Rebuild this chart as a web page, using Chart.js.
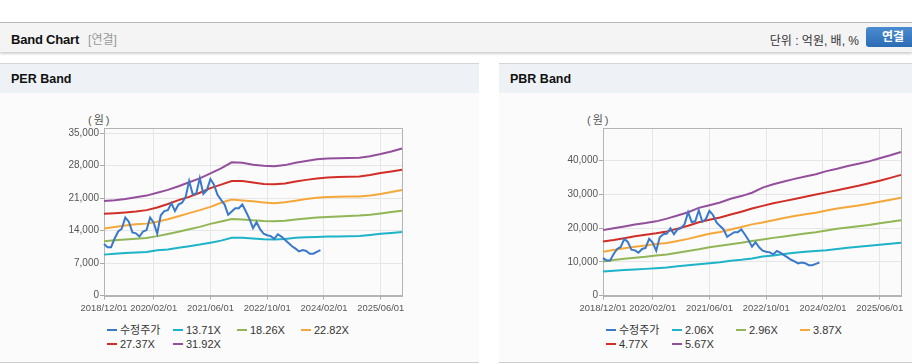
<!DOCTYPE html>
<html>
<head>
<meta charset="utf-8">
<script src="https://cdn.jsdelivr.net/npm/chart.js@4.4.1/dist/chart.umd.min.js"></script>
<style>
body{margin:0;width:912px;height:364px;overflow:hidden;background:#fff;font-family:"Liberation Sans",Arial,"Noto Sans CJK KR",sans-serif;position:relative}
#head{position:absolute;left:0;top:22px;width:912px;height:29px;background:#f4f4f4;border-top:1px solid #b8b8b8;box-shadow:0 2px 2px rgba(0,0,0,0.18)}
#head .t{position:absolute;left:11px;top:7px;font-size:13px;font-weight:bold;color:#111;letter-spacing:-0.2px}
#head .t span{font-weight:normal;color:#999;font-size:12px;margin-left:9px;letter-spacing:0}
#head .u{position:absolute;right:53px;top:8px;font-size:12px;color:#333}
#head .b{position:absolute;left:866px;top:4px;width:54px;height:20px;border-radius:3px;background:linear-gradient(#4b8bd2,#2c6cb4);color:#fff;font-weight:bold;font-size:12px;line-height:20px;text-align:center}
.panel{position:absolute;top:63px;height:298px;background:#fbfbfb;border-top:1px solid #d4d4d4;border-bottom:1px solid #cfcfcf}
.panel .ph{height:29px;background:#eef2f7;font-size:12.5px;font-weight:bold;color:#111;line-height:31px;padding-left:11px}
.unit{position:absolute;top:111px;font-size:11px;color:#555;letter-spacing:2px}
canvas.c{position:absolute;top:108px}
.legend{position:absolute;top:323px;width:260px;display:flex;flex-wrap:wrap;font-size:11px;color:#333}
.legend div{height:13.7px;line-height:14px;white-space:nowrap}
.legend i{display:inline-block;width:10px;height:2px;margin-right:3px;vertical-align:middle;position:relative;top:-1px}
</style>
</head>
<body>
<div id="head"><div class="t">Band Chart<span>[연결]</span></div><div class="u">단위 : 억원, 배, %</div><div class="b">연결</div></div>
<div class="panel" style="left:0;width:479px"><div class="ph">PER Band</div></div>
<div class="panel" style="left:499px;width:413px"><div class="ph">PBR Band</div></div>
<div class="unit" style="left:88px">(원)</div>
<div class="unit" style="left:587px">(원)</div>
<canvas class="c" id="perChart" width="380" height="212" style="left:30px"></canvas>
<canvas class="c" id="pbrChart" width="380" height="212" style="left:529px"></canvas>
<div class="legend" id="perLegend" style="left:107px"></div>
<div class="legend" id="pbrLegend" style="left:606px"></div>
<script>
// monthly categories 2018/12 ~ 2025/12
const months=[];
for(let y=2018,m=12;y<2026;){
  months.push(y+'/'+String(m).padStart(2,'0')+'/01');
  m++; if(m>12){m=1;y++;}
}
const tickLabels=['2018/12/01','2020/02/01','2021/06/01','2022/10/01','2024/02/01','2025/06/01'];
const perTicks=[0,7000,14000,21000,28000,35000];
const pbrTicks=[0,10000,20000,30000,40000];

// 수정주가 (monthly, 2018/12 ~ 2024/01)
const price=[11100,10400,10400,12300,13800,14400,16800,15900,13600,13400,12700,13800,14100,16800,15700,13300,
  17300,18200,18400,19900,18200,19600,20000,21200,24700,21800,22000,25300,21900,22700,25100,23900,21700,20600,
  19600,17400,18100,18800,18800,19600,18100,16500,14500,15800,14300,13300,13000,12800,12200,13200,12700,12000,
  11300,10600,10100,9500,9800,9600,9000,9000,9400,9800];

// band values every 3 months (2018/12 ~ 2025/12)
const perNames=['13.71X','18.26X','22.82X','27.37X','31.92X'];
const per1371=[8810,9000,9170,9270,9360,9730,9930,10280,10620,10970,11390,11830,12450,12430,12290,12100,12050,12200,12440,12530,12630,12700,12700,12770,12840,13050,13290,13480,13660];
const per1826=[11690,11890,12070,12240,12390,12800,13270,13750,14270,14790,15440,15950,16500,16400,16200,16060,15980,16110,16370,16600,16790,16930,17020,17120,17220,17410,17690,17980,18280];
const per2282=[14430,14770,15090,15350,15490,15900,16450,17090,17760,18400,19100,19980,20700,20500,20300,20060,19870,20100,20430,20810,21080,21240,21280,21320,21350,21570,21870,22300,22750];
const per2737=[17610,17740,17910,18110,18400,18980,19720,20550,21250,22150,23150,23900,24680,24680,24360,24040,23960,24160,24550,24920,25230,25440,25530,25600,25670,25970,26380,26740,27080];
const per3192=[20350,20540,20820,21170,21530,22150,22760,23540,24410,25250,26330,27380,28700,28600,28200,27980,27880,28100,28600,29000,29350,29530,29570,29640,29710,30000,30480,31050,31700];

const pbrNames=['2.06X','2.96X','3.87X','4.77X','5.67X'];
const pbr206=[7100,7350,7600,7750,7900,8100,8300,8650,8950,9250,9600,9900,10300,10600,11000,11550,11900,12300,12650,12950,13200,13450,13800,14200,14450,14750,15050,15350,15650];
const pbr296=[10100,10550,10900,11200,11500,11900,12200,12700,13200,13700,14300,14750,15200,15650,16200,16650,17100,17500,17950,18400,18800,19300,19800,20200,20550,20950,21450,21850,22350];
const pbr387=[13000,13500,14000,14450,14850,15250,15600,16200,16800,17600,18300,18850,19600,20300,21100,21650,22300,23000,23600,24100,24550,25200,25800,26250,26700,27250,27800,28400,29000];
const pbr477=[16000,16450,17000,17550,18000,18450,19000,19850,20700,21750,22500,23150,24050,24850,25800,26600,27400,28000,28650,29300,29950,30600,31250,31900,32550,33300,34050,34900,35800];
const pbr567=[19400,19950,20500,21080,21500,22000,22800,23750,24700,26000,26800,27600,28700,29500,30500,32000,33000,33800,34600,35300,36000,36900,37600,38400,39100,39800,40700,41600,42600];

const colors=['#3a78c8','#1db3c8','#91b656','#f5a73a','#d22e28','#944f9c'];

function bandData(vals){
  return vals.map((v,k)=>({x:months[k*3],y:v}));
}

const framePlugin={
  id:'frame',
  beforeDatasetsDraw(chart){
    const a=chart.chartArea, c=chart.ctx;
    c.save();
    c.strokeStyle='#b4b4b4';
    c.lineWidth=1;
    c.strokeRect(Math.round(a.left)+0.5,Math.round(a.top)+0.5,Math.round(a.right-a.left),Math.round(a.bottom-a.top));
    c.restore();
  }
};

function makeChart(id,legendId,names,bands,yTicks,yMax){
  const datasets=[{label:'수정주가',data:price,borderColor:colors[0],backgroundColor:colors[0]}];
  bands.forEach((b,i)=>{
    datasets.push({label:names[i],data:bandData(b),borderColor:colors[i+1],backgroundColor:colors[i+1]});
  });
  const ctx=document.getElementById(id).getContext('2d');
  new Chart(ctx,{
    type:'line',
    data:{labels:months,datasets:datasets},
    options:{
      responsive:false,
      animation:false,
      layout:{padding:{top:20,right:8,left:0,bottom:0}},
      elements:{point:{radius:0},line:{borderWidth:2,tension:0}},
      plugins:{legend:{display:false},tooltip:{enabled:false}},
      scales:{
        x:{
          afterBuildTicks(s){ s.ticks=s.ticks.filter(t=>tickLabels.includes(months[t.value])); },
          afterFit(s){ s.height=24.5; },
          ticks:{autoSkip:false,maxRotation:0,color:'#555',font:{size:9.4,family:'"Liberation Sans",Arial'},padding:3},
          grid:{color:'#e6e6e6',tickColor:'#aaa',tickLength:4},
          border:{color:'#b4b4b4'}
        },
        y:{
          min:0,max:yMax,
          afterBuildTicks(s){ s.ticks=yTicks.map(v=>({value:v})); },
          afterFit(s){ s.width=74; },
          ticks:{color:'#555',font:{size:10,family:'"Liberation Sans",Arial'},padding:1,
            callback:v=>v.toLocaleString('en-US')},
          grid:{color:'#e6e6e6',tickColor:'#aaa',tickLength:4},
          border:{color:'#b4b4b4'}
        }
      }
    },
    plugins:[framePlugin]
  });
  const lg=document.getElementById(legendId);
  const widths=[66,64,64,64];
  datasets.forEach((d,i)=>{
    const el=document.createElement('div');
    el.style.width=widths[i%4]+'px';
    el.innerHTML='<i style="background:'+d.borderColor+'"></i>'+d.label;
    lg.appendChild(el);
  });
}

makeChart('perChart','perLegend',perNames,[per1371,per1826,per2282,per2737,per3192],perTicks,36100);
makeChart('pbrChart','pbrLegend',pbrNames,[pbr206,pbr296,pbr387,pbr477,pbr567],pbrTicks,49700);
</script>
</body>
</html>
